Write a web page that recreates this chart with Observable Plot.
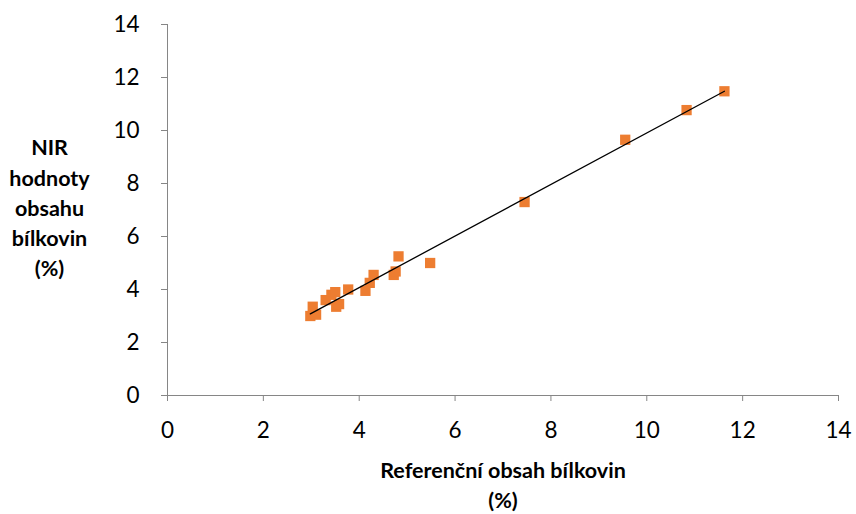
<!DOCTYPE html>
<html>
<head>
<meta charset="utf-8">
<script src="https://cdn.jsdelivr.net/npm/d3@7"></script>
<script src="https://cdn.jsdelivr.net/npm/@observablehq/plot@0.6"></script>
<style>
  body { margin: 0; background: #fff; }
  #chart svg { font-family: Lato, "Open Sans", sans-serif; }
</style>
</head>
<body>
<div id="chart"></div>
<script>
// Reference protein content (%) vs NIR values (%)
const referenceValues = [2.98, 3.03, 3.10, 3.30, 3.42, 3.50, 3.52, 3.58, 3.77, 4.13, 4.22, 4.30, 4.72, 4.76, 4.82, 5.48, 7.45, 9.55, 10.83, 11.62];
const nirValues       = [3.00, 3.35, 3.05, 3.60, 3.80, 3.90, 3.35, 3.45, 4.00, 3.95, 4.25, 4.55, 4.55, 4.68, 5.25, 5.00, 7.30, 9.65, 10.77, 11.48];
const tickValues = [0, 2, 4, 6, 8, 10, 12, 14];
const xTitle = "Referenční obsah bílkovin\n(%)";
const yTitle = "NIR\nhodnoty\nobsahu\nbílkovin\n(%)";

const data = referenceValues.map((x, i) => ({x, y: nirValues[i]}));
const axisGray = "#868686";

const chart = Plot.plot({
  width: 856,
  height: 514,
  marginLeft: 167,
  marginRight: 18,
  marginTop: 24,
  marginBottom: 119,
  style: {fontFamily: "Lato, 'Open Sans', sans-serif", color: "#000", background: "#fff"},
  x: {domain: [0, 14], ticks: tickValues},
  y: {domain: [0, 14], ticks: tickValues},
  marks: [
    Plot.ruleY([0], {stroke: axisGray, strokeWidth: 1}),
    Plot.ruleX([0], {stroke: axisGray, strokeWidth: 1}),
    Plot.axisX({ticks: tickValues, tickSize: 6, tickPadding: 21, stroke: axisGray, fontSize: 22.5, label: null, tickFormat: d => d}),
    Plot.axisY({ticks: tickValues, tickSize: 6, tickPadding: 22, stroke: axisGray, fontSize: 22.5, label: null, tickFormat: d => d}),
    Plot.dot(data, {x: "x", y: "y", symbol: "square", r: 5.8, fill: "#ED7D31", stroke: "none"}),
    Plot.linearRegressionY(data, {x: "x", y: "y", stroke: "#000", strokeWidth: 1.3, ci: 0}),
    Plot.text([xTitle], {frameAnchor: "bottom", dy: 88, lineHeight: 1.4, fontSize: 21.5, fontWeight: "bold", fill: "#000", lineAnchor: "middle"}),
    Plot.text([yTitle], {frameAnchor: "left", dx: -118, dy: -4, lineHeight: 1.4, fontSize: 21.5, fontWeight: "bold", fill: "#000", textAnchor: "middle"})
  ]
});
document.getElementById("chart").appendChild(chart);
</script>
</body>
</html>
